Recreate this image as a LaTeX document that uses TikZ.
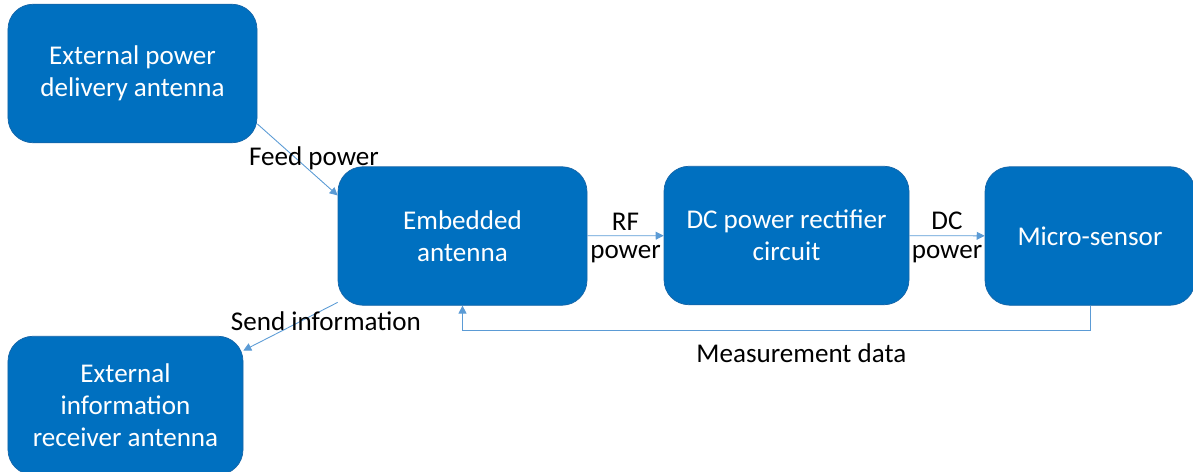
\documentclass[tikz,border=0pt]{standalone}
\usepackage{fontspec}
\setmainfont{Carlito}
\usetikzlibrary{arrows.meta}
\definecolor{boxblue}{HTML}{0070C0}
\definecolor{boxedge}{HTML}{1565A8}
\definecolor{linkblue}{HTML}{5B9BD5}
\tikzset{
  block/.style={draw=boxedge, line width=0.4pt, fill=boxblue, rounded corners=0.5cm,
    text=white, align=center, minimum height=2.77cm, inner sep=2pt,
    font=\fontsize{15.4}{18.3}\selectfont},
  link/.style={draw=linkblue, line width=0.5pt, ->, >={Triangle[length=4.5pt,width=4.5pt]}},
  tag/.style={text=black, inner sep=1pt, font=\fontsize{15.4}{18.3}\selectfont}
}
\begin{document}
\begin{tikzpicture}
    \useasboundingbox (0,0) rectangle (23.86,-9.44);
    \node [block, minimum width=4.98cm] (pwr) at (2.65,-1.47) {External power\\delivery antenna};
    \node [block, minimum width=4.98cm] (emb) at (9.25,-4.72) {Embedded\\antenna};
    \node [block, minimum width=4.9cm] (rect) at (15.73,-4.71) {DC power rectifier\\circuit};
    \node [block, minimum width=4.2cm] (sensor) at (21.8,-4.72) {Micro-sensor};
    \node [block, minimum width=4.7cm] (rcv) at (2.51,-8.11) {External\\information\\receiver antenna};
    \draw [link] (pwr.-22) -- (emb.162);
    \node [tag] (feed) at (6.28,-3.16) {Feed power};
    \draw [link] (emb.208) -- (rcv.25);
    \node [tag] (send) at (6.52,-6.42) {Send information};
    \draw [link] (emb) -- node [tag,above=2pt,midway] (rf) {RF} node [tag,below=4pt,midway] (rfp) {power} (rect);
    \draw [link] (rect) -- node [tag,above=2pt,midway] (dc) {DC} node [tag,below=4pt,midway] (dcp) {power} (sensor);
    \draw [link] (sensor.south) -- ++(0,-0.5) -| node [tag,below=6pt,pos=0.23] (meas) {Measurement data} (emb.south);
  \end{tikzpicture}
\end{document}
